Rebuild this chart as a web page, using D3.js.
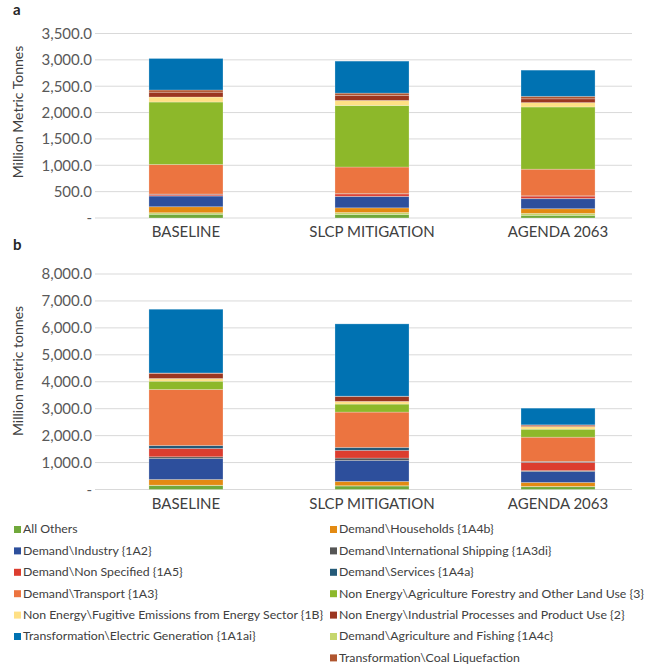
<!DOCTYPE html>
<html>
<head>
<meta charset="utf-8">
<script src="https://cdn.jsdelivr.net/npm/d3@7"></script>
<style>
  body { margin: 0; background: #fff; }
  svg { font-family: Lato, "Noto Sans", sans-serif; }
</style>
</head>
<body>
<svg id="chart" width="646" height="666"></svg>
<script>
// scenarios on the x axis
var scenarios = ['BASELINE', 'SLCP MITIGATION', 'AGENDA 2063'];

// series in stacking order (bottom to top)
var series = [
  'All Others',
  'Demand\\Agriculture and Fishing {1A4c}',
  'Demand\\Households {1A4b}',
  'Demand\\Industry {1A2}',
  'Demand\\International Shipping {1A3di}',
  'Demand\\Non Specified {1A5}',
  'Demand\\Services {1A4a}',
  'Demand\\Transport {1A3}',
  'Non Energy\\Agriculture Forestry and Other Land Use {3}',
  'Non Energy\\Fugitive Emissions from Energy Sector {1B}',
  'Non Energy\\Industrial Processes and Product Use {2}',
  'Transformation\\Coal Liquefaction',
  'Transformation\\Electric Generation {1A1ai}'
];

var colors = ['#70a83b', '#c5d66c', '#e38a12', '#2d4f9c', '#555555', '#dc3d2f', '#245a78',
  '#ec7440', '#8db82a', '#ffe085', '#9b3620', '#b0552f', '#0072b2'];

// legend order as in the reference (two columns, row by row)
var legendOrder = [0, 2, 3, 4, 5, 6, 7, 8, 9, 10, 12, 1, 11];

// panel a: values per series, one per scenario
var valuesA = [
  [70, 66, 50],
  [30, 38, 38],
  [114, 89, 88],
  [203, 214, 190],
  [5, 5, 5],
  [28, 45, 45],
  [5, 5, 5],
  [560, 505, 505],
  [1185, 1168, 1180],
  [95, 95, 83],
  [91, 95, 72],
  [42, 44, 47],
  [598, 607, 497]
];

// panel b
var valuesB = [
  [150, 130, 104],
  [10, 10, 10],
  [212, 160, 148],
  [780, 780, 408],
  [63, 87, 30],
  [308, 285, 309],
  [111, 111, 30],
  [2079, 1311, 903],
  [308, 297, 297],
  [100, 100, 99],
  [190, 178, 50],
  [15, 15, 12],
  [2366, 2684, 619]
];

var ticksA = [0, 500, 1000, 1500, 2000, 2500, 3000, 3500];
var ticksB = [0, 1000, 2000, 3000, 4000, 5000, 6000, 7000, 8000];

var svg = d3.select('#chart');
var fmt = d3.format(',.1f');

function panel(opts) {
  var g = svg.append('g');
  var x = d3.scaleBand().domain(scenarios).range([95, 649]).paddingInner(0.602).paddingOuter(0.29);
  var y = d3.scaleLinear().domain([0, opts.max]).range([opts.bottom, opts.top]);

  // gridlines
  g.selectAll('line.grid').data(opts.ticks).enter().append('line')
    .attr('x1', 95).attr('x2', 632)
    .attr('y1', function(d) { return y(d); }).attr('y2', function(d) { return y(d); })
    .attr('stroke', '#d9d9d9').attr('stroke-width', 1);

  // y tick labels
  g.selectAll('text.tick').data(opts.ticks).enter().append('text')
    .attr('x', 92).attr('y', function(d) { return y(d); }).attr('dy', '0.36em')
    .attr('text-anchor', 'end').attr('font-size', 15).attr('fill', '#595959')
    .text(function(d) { return d === 0 ? '-' : fmt(d); });

  // stacked bars
  var rows = scenarios.map(function(s, i) {
    var r = { scenario: s };
    series.forEach(function(name, k) { r[name] = opts.values[k][i]; });
    return r;
  });
  var stack = d3.stack().keys(series)(rows);
  g.selectAll('g.layer').data(stack).enter().append('g')
    .attr('fill', function(d, k) { return colors[k]; })
    .selectAll('rect').data(function(d) { return d; }).enter().append('rect')
    .attr('x', function(d) { return x(d.data.scenario); })
    .attr('width', x.bandwidth())
    .attr('y', function(d) { return y(d[1]); })
    .attr('height', function(d) { return y(d[0]) - y(d[1]); })
    .attr('stroke', '#ffffff').attr('stroke-opacity', 0.3).attr('stroke-width', 0.8);

  // category labels
  g.selectAll('text.cat').data(scenarios).enter().append('text')
    .attr('x', function(d) { return x(d) + x.bandwidth() / 2; })
    .attr('y', opts.bottom + 19)
    .attr('text-anchor', 'middle').attr('font-size', 15).attr('fill', '#404040')
    .text(function(d) { return d; });

  // axis title
  g.append('text')
    .attr('transform', 'translate(23,' + opts.titleY + ') rotate(-90)')
    .attr('text-anchor', 'middle').attr('font-size', 14).attr('fill', '#404040')
    .text(opts.title);

  // panel letter
  g.append('text').attr('x', 13).attr('y', opts.letterY)
    .attr('font-size', 15).attr('font-weight', 'bold').attr('fill', '#262626')
    .text(opts.letter);
}

panel({ values: valuesA, ticks: ticksA, max: 3500, top: 33.5, bottom: 218,
  title: 'Million Metric Tonnes', titleY: 112, letter: 'a', letterY: 15 });
panel({ values: valuesB, ticks: ticksB, max: 8000, top: 274, bottom: 489.5,
  title: 'Million metric tonnes', titleY: 371, letter: 'b', letterY: 250 });

// legend: 12 entries row by row in two columns, the last one alone in the right column
var legend = svg.append('g').selectAll('g').data(legendOrder).enter().append('g')
  .attr('transform', function(d, i) {
    var col = i < 12 ? i % 2 : 1;
    var row = Math.floor(i / 2);
    return 'translate(' + (col ? 330 : 14) + ',' + (529 + row * 21.4) + ')';
  });
legend.append('rect').attr('x', 0).attr('y', -3).attr('width', 7).attr('height', 7)
  .attr('fill', function(d) { return colors[d]; });
legend.append('text').attr('x', 9).attr('y', 0).attr('dy', '0.36em')
  .attr('font-size', 12.3).attr('fill', '#404040')
  .text(function(d) { return series[d]; });
</script>
</body>
</html>
